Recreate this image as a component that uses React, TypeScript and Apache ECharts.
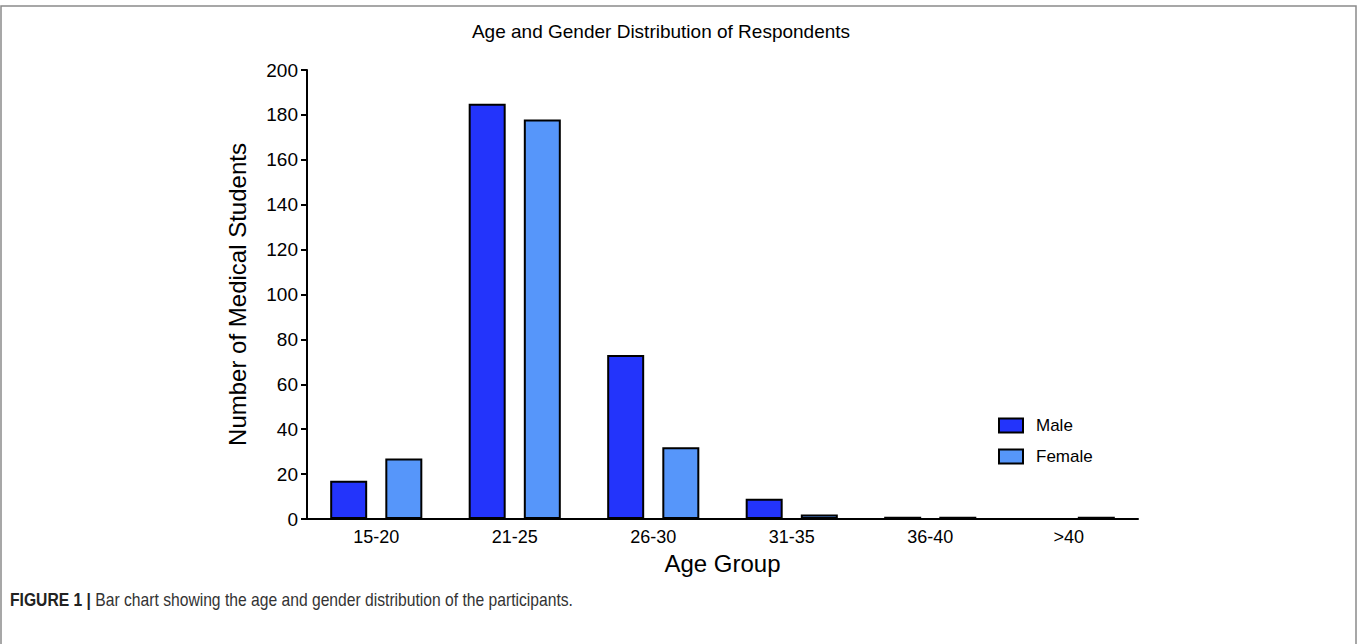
import React, { useEffect, useRef } from "react";
import * as echarts from "echarts";

const categories = ["15-20", "21-25", "26-30", "31-35", "36-40", ">40"];
const maleValues = [17, 185, 73, 9, 1, 0];
const femaleValues = [27, 178, 32, 2, 1, 1];
const seriesNames = ["Male", "Female"];
const chartTitle = "Age and Gender Distribution of Respondents";
const yAxisTitle = "Number of Medical Students";
const xAxisTitle = "Age Group";
const captionBold = "FIGURE 1 |";
const captionText = " Bar chart showing the age and gender distribution of the participants.";

const FONT = "'Liberation Sans', Arial, Helvetica, sans-serif";

export default function App() {
  const ref = useRef<HTMLDivElement>(null);
  useEffect(() => {
    if (!ref.current) return;
    const chart = echarts.init(ref.current, undefined, { renderer: "svg" });
    chart.setOption({
      animation: false,
      backgroundColor: "#ffffff",
      textStyle: { fontFamily: FONT },
      grid: { left: 307, right: 219, top: 70, bottom: 125, containLabel: false },
      legend: {
        orient: "vertical",
        left: 998,
        top: 417,
        padding: 0,
        itemWidth: 24,
        itemHeight: 14,
        itemGap: 14,
        icon: "rect",
        textStyle: { fontSize: 17, color: "#000", fontFamily: FONT, padding: [0, 0, 0, 8] },
        data: seriesNames,
      },
      xAxis: {
        type: "category",
        data: categories,
        boundaryGap: true,
        axisLine: { show: true, lineStyle: { color: "#000", width: 2 } },
        axisTick: { show: false },
        axisLabel: { fontSize: 18, color: "#000", margin: 9, fontFamily: FONT },
        name: xAxisTitle,
        nameLocation: "middle",
        nameGap: 32,
        nameTextStyle: { fontSize: 24, color: "#000", fontFamily: FONT },
      },
      yAxis: {
        type: "value",
        min: 0,
        max: 200,
        interval: 20,
        splitLine: { show: false },
        axisLine: { show: true, lineStyle: { color: "#000", width: 2 } },
        axisTick: { show: true, length: 6, lineStyle: { color: "#000", width: 2 } },
        axisLabel: { fontSize: 19, color: "#000", margin: 9, fontFamily: FONT },
        name: yAxisTitle,
        nameLocation: "middle",
        nameGap: 58,
        nameTextStyle: { fontSize: 24, color: "#000", fontFamily: FONT },
      },
      series: [
        {
          name: seriesNames[0],
          type: "bar",
          data: maleValues,
          barWidth: 37,
          barGap: "49%",
          itemStyle: { color: "#2334FB", borderColor: "#000", borderWidth: 2 },
        },
        {
          name: seriesNames[1],
          type: "bar",
          data: femaleValues,
          barWidth: 37,
          barGap: "49%",
          itemStyle: { color: "#5696FA", borderColor: "#000", borderWidth: 2 },
        },
      ],
      graphic: [
        {
          type: "rect",
          shape: { x: 1, y: 6, width: 1355, height: 700 },
          style: { fill: "none", stroke: "#8a8a8a", lineWidth: 1.5 },
          silent: true,
        },
        {
          type: "text",
          x: 661,
          y: 31,
          style: {
            text: chartTitle,
            fontSize: 19,
            fontFamily: FONT,
            fill: "#000",
            textAlign: "center",
            textVerticalAlign: "middle",
          },
        },
        {
          type: "text",
          x: 10,
          y: 600,
          scaleX: 0.895,
          style: {
            rich: {
              b: { fontWeight: "bold", fontSize: 17.5, fontFamily: FONT, fill: "#222" },
              n: { fontSize: 17.5, fontFamily: FONT, fill: "#333" },
            },
            text: "{b|" + captionBold + "}{n|" + captionText + "}",
            textVerticalAlign: "middle",
          },
        },
      ],
    });
    return () => chart.dispose();
  }, []);
  return (
    <div
      ref={ref}
      style={{ position: "fixed", left: 0, top: 0, width: 1357, height: 644 }}
    />
  );
}
